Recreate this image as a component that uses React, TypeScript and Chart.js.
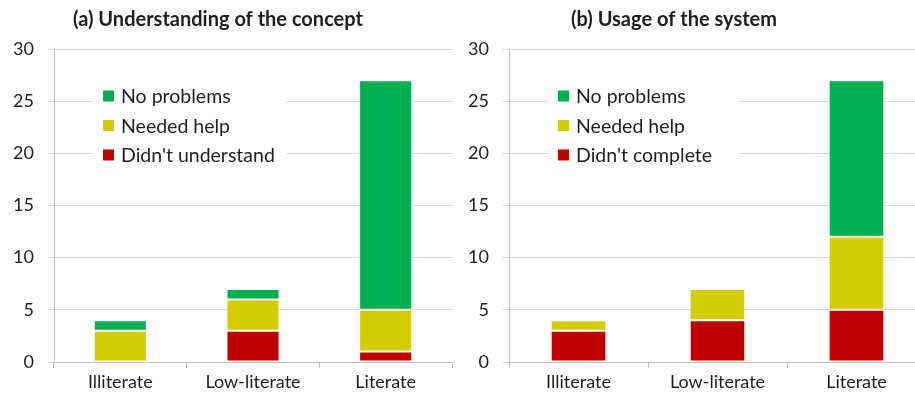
import { useEffect, useRef } from "react";
import { Chart, registerables } from "chart.js";

Chart.register(...registerables);

const categories = ["Illiterate", "Low-literate", "Literate"];

const understandNoProblems = [1, 1, 22];
const understandNeededHelp = [3, 3, 4];
const understandDidnt = [0, 3, 1];

const usageNoProblems = [0, 0, 15];
const usageNeededHelp = [1, 3, 7];
const usageDidnt = [3, 4, 5];

const yMin = 0;
const yMax = 30;
const yStep = 5;

const GREEN = "#00b050";
const YELLOW = "#d2cc00";
const RED = "#c00000";
const FONT = "Lato, 'Open Sans', sans-serif";
const TEXT = "#1e1e1e";

const panelTitle = {
  id: "panelTitle",
  afterDraw(chart: any, _args: any, opts: any) {
    const ctx = chart.ctx;
    ctx.save();
    ctx.font = `bold ${opts.size}px ${FONT}`;
    ctx.fillStyle = TEXT;
    ctx.textAlign = "center";
    ctx.textBaseline = "middle";
    ctx.fillText(opts.text, opts.x, opts.y);
    ctx.restore();
  },
};

const insideLegend = {
  id: "insideLegend",
  afterDraw(chart: any, _args: any, opts: any) {
    const ctx = chart.ctx;
    const a = chart.chartArea;
    ctx.save();
    ctx.fillStyle = "#ffffff";
    ctx.fillRect(a.left + opts.boxLeft, a.top + opts.boxTop, opts.boxWidth, opts.boxHeight);
    const ds = chart.data.datasets.slice().reverse();
    ctx.font = `${opts.size}px ${FONT}`;
    ctx.textBaseline = "middle";
    ctx.textAlign = "left";
    ds.forEach((d: any, i: number) => {
      const y = a.top + opts.firstRow + i * opts.rowGap;
      ctx.fillStyle = d.backgroundColor;
      ctx.fillRect(a.left + opts.squareLeft, y - opts.square / 2, opts.square, opts.square);
      ctx.fillStyle = TEXT;
      ctx.fillText(d.label, a.left + opts.textLeft, y + 1);
    });
    ctx.restore();
  },
};

function makeConfig(title: string, titleX: number, labels: string[], values: number[][]) {
  const colors = [RED, YELLOW, GREEN];
  return {
    type: "bar" as const,
    data: {
      labels: categories,
      datasets: labels.map((l, i) => ({
        label: l,
        data: values[i],
        backgroundColor: colors[i],
        borderColor: "rgba(255,255,255,0.35)",
        borderWidth: 1,
        borderSkipped: false,
        categoryPercentage: 0.4,
        barPercentage: 1,
      })),
    },
    options: {
      responsive: false,
      animation: false as const,
      layout: { padding: { top: 49, right: 3, left: 0, bottom: 0 } },
      plugins: {
        legend: { display: false },
        tooltip: { enabled: false },
        title: { display: false },
        panelTitle: { text: title, x: titleX, y: 20, size: 20 },
        insideLegend: {
          boxLeft: 39,
          boxTop: 26,
          boxWidth: 192,
          boxHeight: 96,
          squareLeft: 49,
          square: 11,
          textLeft: 67,
          firstRow: 47,
          rowGap: 29.5,
          size: 19.5,
        },
      },
      scales: {
        x: {
          stacked: true,
          grid: {
            display: true,
            drawOnChartArea: false,
            drawTicks: true,
            tickLength: 6,
            offset: true,
            color: "#bfbfbf",
          },
          border: { color: "#bfbfbf" },
          ticks: { color: TEXT, font: { family: FONT, size: 18 }, padding: 3 },
          afterFit(scale: any) {
            scale.height = 38;
          },
        },
        y: {
          stacked: true,
          min: yMin,
          max: yMax,
          grid: { color: "#d9d9d9", tickLength: 6 },
          border: { color: "#bfbfbf" },
          ticks: {
            stepSize: yStep,
            color: TEXT,
            font: { family: FONT, size: 18 },
            padding: 14,
          },
          afterFit(scale: any) {
            scale.width = 54;
          },
        },
      },
    },
    plugins: [panelTitle, insideLegend],
  };
}

function Panel(props: { left: number; width: number; config: any }) {
  const ref = useRef<HTMLCanvasElement | null>(null);
  useEffect(() => {
    if (!ref.current) return;
    const chart = new Chart(ref.current, props.config);
    return () => chart.destroy();
  }, []);
  return (
    <canvas
      ref={ref}
      width={props.width}
      height={400}
      style={{ position: "absolute", left: props.left, top: 0, width: props.width, height: 400 }}
    />
  );
}

export default function App() {
  const configA = makeConfig(
    "(a) Understanding of the concept",
    218,
    ["Didn't understand", "Needed help", "No problems"],
    [understandDidnt, understandNeededHelp, understandNoProblems]
  );
  const configB = makeConfig(
    "(b) Usage of the system",
    219,
    ["Didn't complete", "Needed help", "No problems"],
    [usageDidnt, usageNeededHelp, usageNoProblems]
  );
  return (
    <div
      style={{
        position: "absolute",
        left: 0,
        top: 0,
        width: 915,
        height: 400,
        overflow: "hidden",
        background: "#ffffff",
      }}
    >
      <Panel left={0} width={455} config={configA} />
      <Panel left={455} width={474} config={configB} />
    </div>
  );
}
